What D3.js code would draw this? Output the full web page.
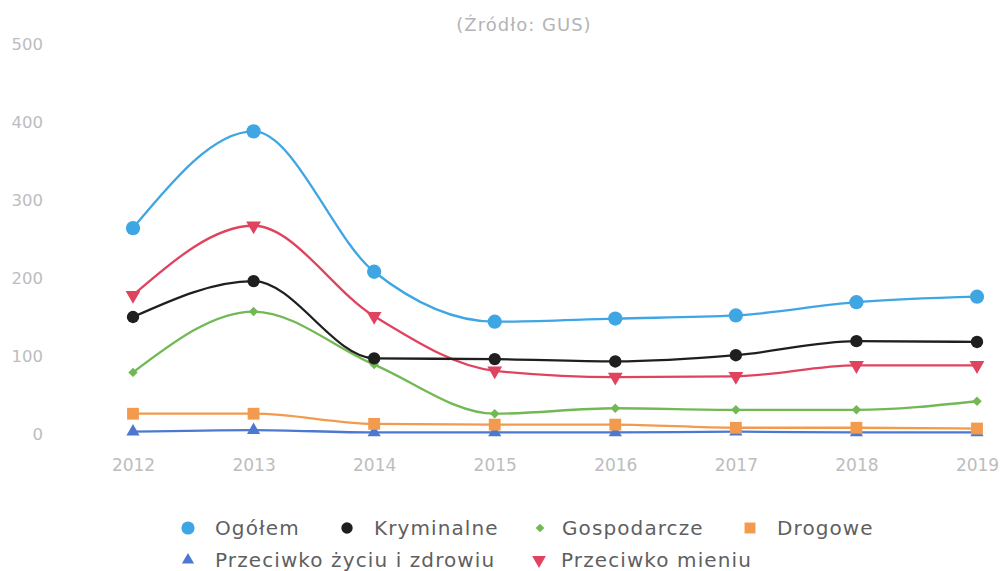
<!DOCTYPE html>
<html><head><meta charset="utf-8">
<script src="https://cdn.jsdelivr.net/npm/d3@7"></script>
<style>body{margin:0;background:#fff}svg{display:block}</style>
</head><body>
<svg id="c" width="1000" height="571"></svg>
<script>
const years = ["2012","2013","2014","2015","2016","2017","2018","2019"];
const yTicks = [0,100,200,300,400,500];
const ogolem = [264,388,208,144,148,152,169,176];
const kryminalne = [150,196,97,96,93,101,119,118];
const gospodarcze = [79,157,89,26,33,31,31,42];
const drogowe = [26,26,13,12,12,8,8,7];
const zycie = [3,5,2,2,2,3,2,2];
const mienie = [178,267,151,81,73,74,88,88];
const seriesNames = ["Ogółem","Kryminalne","Gospodarcze","Drogowe","Przeciwko życiu i zdrowiu","Przeciwko mieniu"];
const title = "(Źródło: GUS)";

const series = [
  {name: seriesNames[0], values: ogolem, color:"#3fa6e4", symbol:d3.symbolCircle, size:160},
  {name: seriesNames[1], values: kryminalne, color:"#1f1f1f", symbol:d3.symbolCircle, size:120},
  {name: seriesNames[2], values: gospodarcze, color:"#72b956", symbol:d3.symbolSquare, size:45, rot:45},
  {name: seriesNames[3], values: drogowe, color:"#f29a4e", symbol:d3.symbolSquare, size:140},
  {name: seriesNames[4], values: zycie, color:"#4c79cf", symbol:d3.symbolTriangle, size:75},
  {name: seriesNames[5], values: mienie, color:"#e0435e", symbol:d3.symbolTriangle, size:95, rot:180}
];

const svg = d3.select("#c");
const x = d3.scalePoint().domain(years).range([133,977]);
const y = d3.scaleLinear().domain([0,500]).range([434,44]);

svg.append("text").attr("x",524).attr("y",31).attr("text-anchor","middle")
  .attr("font-family","DejaVu Sans").attr("font-size",18).attr("letter-spacing","1px")
  .attr("fill","#b4b4b4").text(title);

const yAxis = svg.append("g").attr("transform","translate(43,0)")
  .call(d3.axisLeft(y).tickValues(yTicks).tickSize(0).tickPadding(0));
yAxis.select(".domain").remove();
yAxis.selectAll("text").attr("font-family","DejaVu Sans").attr("font-size",16.5).attr("fill","#bdbdbd");

const xAxis = svg.append("g").attr("transform","translate(0,465)")
  .call(d3.axisBottom(x).tickSize(0).tickPadding(0));
xAxis.select(".domain").remove();
xAxis.selectAll("text").attr("font-family","DejaVu Sans").attr("font-size",17).attr("fill","#bdbdbd").attr("dy","0.35em");

const line = d3.line().x((d,i)=>x(years[i])).y(d=>y(d)).curve(d3.curveMonotoneX);
const order = [4,3,2,5,1,0];
order.forEach(k=>{
  const s = series[k];
  svg.append("path").attr("d", line(s.values)).attr("fill","none")
    .attr("stroke", s.color).attr("stroke-width", 2.3);
});
order.forEach(k=>{
  const s = series[k];
  svg.append("g").selectAll("path").data(s.values).join("path")
    .attr("d", d3.symbol().type(s.symbol).size(s.size))
    .attr("transform",(d,i)=>`translate(${x(years[i])},${y(d)}) rotate(${s.rot||0})`)
    .attr("fill", s.color);
});

const legendPos = [[188,528],[347,528],[540,528],[750,528],[188,560],[539,560]];
series.forEach((s,i)=>{
  const [lx,ly] = legendPos[i];
  svg.append("path").attr("d", d3.symbol().type(s.symbol).size(s.size*0.85))
    .attr("transform",`translate(${lx},${ly}) rotate(${s.rot||0})`).attr("fill", s.color);
  svg.append("text").attr("x", lx + (i===2||i===5?22:27)).attr("y", ly).attr("dy","0.35em")
    .attr("font-family","DejaVu Sans").attr("font-size",20).attr("letter-spacing","1.1px")
    .attr("fill","#5f5f5f").text(s.name);
});
</script>
</body></html>
